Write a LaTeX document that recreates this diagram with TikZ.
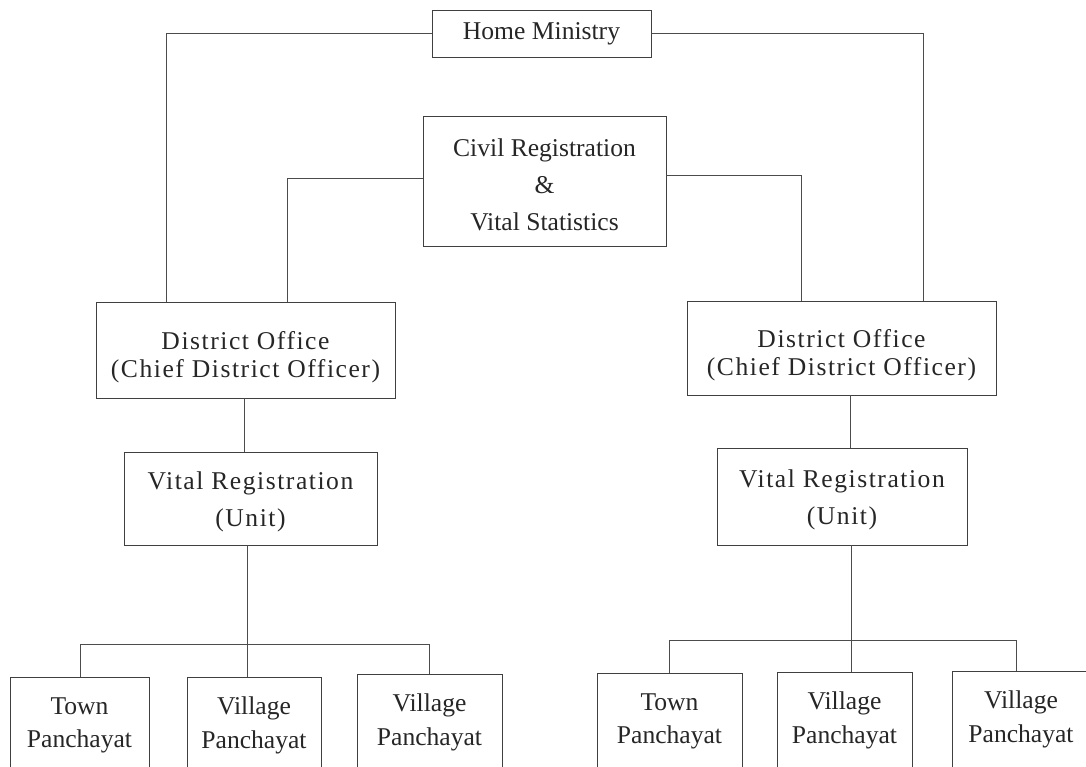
\documentclass[tikz,border=0pt]{standalone}
\usepackage{fontspec}
\setmainfont{Liberation Serif}
\newfontfamily\spacedfont[LetterSpace=6]{Liberation Serif}
\usetikzlibrary{calc}
\newcommand\lift[1]{\rule{0pt}{#1}}
\tikzset{
  box/.style={draw=black!75, line width=0.5pt, inner sep=0pt, align=center, text=black!85},
  link/.style={draw=black!70, line width=0.5pt},
  fA/.style={font={\fontsize{18.2}{26.3}\selectfont}},
  fD/.style={font={\spacedfont\fontsize{18.2}{20}\selectfont}},
  fV/.style={font={\spacedfont\fontsize{18.2}{26.3}\selectfont}},
  fP/.style={font={\fontsize{18.2}{23.8}\selectfont}},
}
\begin{document}
\begin{tikzpicture}[x=0.025cm, y=-0.025cm]
\useasboundingbox (0,0) rectangle (1086,767);
\clip (0,0) rectangle (1086,767);
% boxes
\node[box, fA, minimum width=5.475cm, minimum height=1.175cm] (home) at (541.5,33.5) {Home Ministry};
\node[box, fA, minimum width=6.075cm, minimum height=3.25cm] (civ) at (544.5,181) {\lift{18pt}Civil Registration\\ \&\\ Vital Statistics};
\node[box, fD, minimum width=7.475cm, minimum height=2.4cm] (distL) at (245.5,350) {\lift{23pt}District Office\\(Chief District Officer)};
\node[box, fD, minimum width=7.725cm, minimum height=2.35cm] (distR) at (841.5,348) {\lift{23pt}District Office\\(Chief District Officer)};
\node[box, fV, minimum width=6.325cm, minimum height=2.325cm] (vitL) at (250.5,498.5) {\lift{17.5pt}Vital Registration\\(Unit)};
\node[box, fV, minimum width=6.25cm, minimum height=2.425cm] (vitR) at (842,496.5) {\lift{17.5pt}Vital Registration\\(Unit)};
% bottom row
\node[box, fP, anchor=north, minimum width=3.475cm, minimum height=2.4cm] (townL) at (79.5,677) {Town\\Panchayat};
\node[box, fP, anchor=north, minimum width=3.35cm, minimum height=2.4cm] (vilL1) at (254,677) {Village\\Panchayat};
\node[box, fP, anchor=north, minimum width=3.625cm, minimum height=2.4cm] (vilL2) at (429.5,674) {Village\\Panchayat};
\node[box, fP, anchor=north, minimum width=3.625cm, minimum height=2.4cm] (townR) at (669.5,673) {Town\\Panchayat};
\node[box, fP, anchor=north, minimum width=3.375cm, minimum height=2.4cm] (vilR1) at (844.5,672) {Village\\Panchayat};
\node[box, fP, anchor=north, minimum width=3.45cm, minimum height=2.4cm] (vilR2) at (1021,671) {Village\\Panchayat};
% helper coordinates
\coordinate (hL) at (166,0);
\coordinate (hR) at (923,0);
\coordinate (cL) at (287,178);
\coordinate (cR) at (801,175);
\coordinate (dL) at (244,0);
\coordinate (dR) at (850,0);
\coordinate (busLa) at (80,644);
\coordinate (busLc) at (247,644);
\coordinate (busLb) at (429,644);
\coordinate (busRa) at (669,640);
\coordinate (busRc) at (851,640);
\coordinate (busRb) at (1016,640);
% connectors
\draw[link] (home.west) -| (distL.north -| hL);
\draw[link] (home.east) -| (distR.north -| hR);
\draw[link] (civ.west |- cL) -| (distL.north -| cL);
\draw[link] (civ.east |- cR) -| (distR.north -| cR);
\draw[link] (distL.south -| dL) -- (vitL.north -| dL);
\draw[link] (distR.south -| dR) -- (vitR.north -| dR);
\draw[link] (vitL.south -| busLc) -- (vilL1.north -| busLc);
\draw[link] (townL.north -| busLa) -- (busLa) -- (busLb) -- (vilL2.north -| busLb);
\draw[link] (vitR.south -| busRc) -- (vilR1.north -| busRc);
\draw[link] (townR.north -| busRa) -- (busRa) -- (busRb) -- (vilR2.north -| busRb);
\end{tikzpicture}
\end{document}
